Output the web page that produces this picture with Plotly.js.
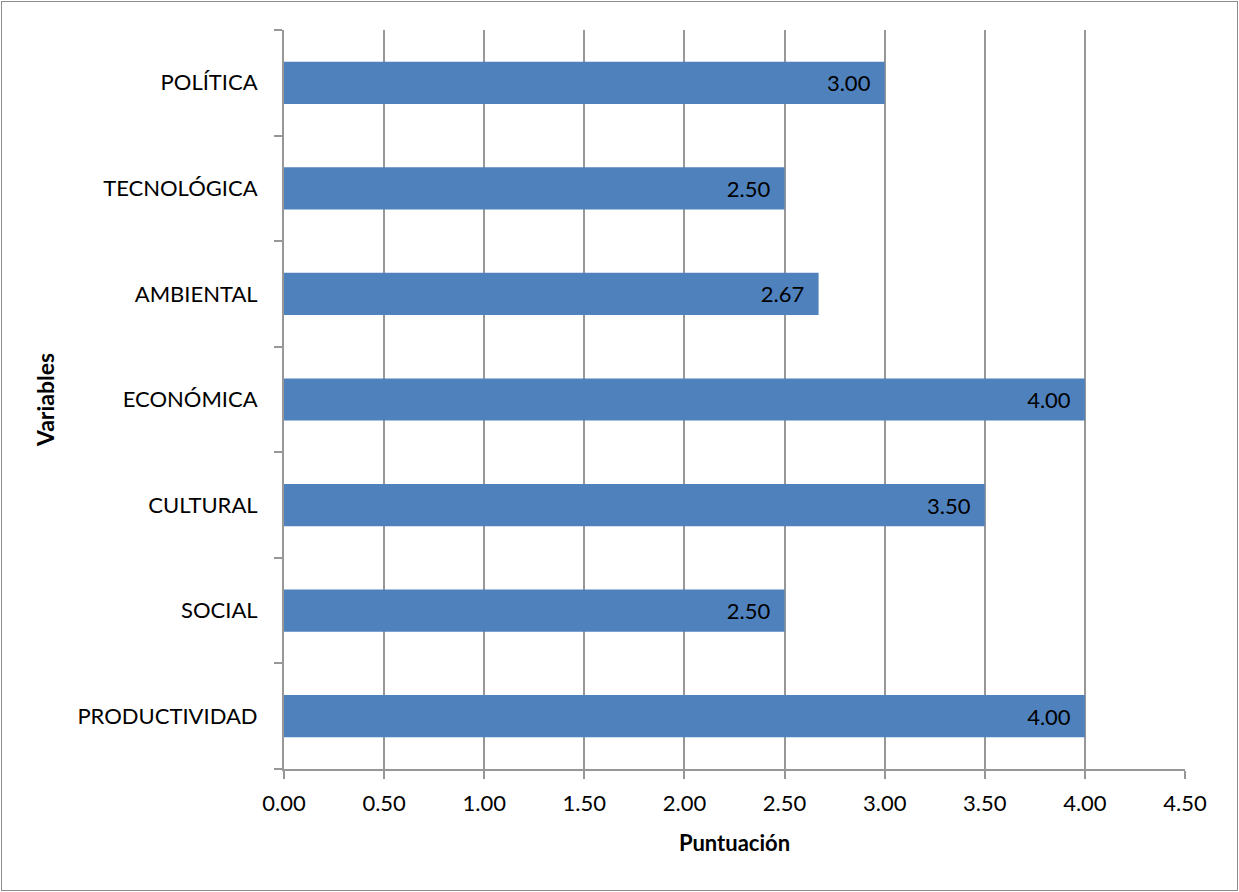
<!DOCTYPE html>
<html>
<head>
<meta charset="utf-8">
<script src="https://cdn.plot.ly/plotly-3.0.1.min.js"></script>
<style>
  html, body { margin: 0; padding: 0; background: #fff; }
  #wrap { position: relative; width: 1239px; height: 892px; }
  #chart { width: 1239px; height: 892px; }
  #frame { position: absolute; left: 1px; top: 1px; width: 1235px; height: 888px; border: 1px solid #8c8c8c; pointer-events: none; }
</style>
</head>
<body>
<div id="wrap">
  <div id="chart"></div>
  <div id="frame"></div>
</div>
<script>
const categories = ["PRODUCTIVIDAD", "SOCIAL", "CULTURAL", "ECONÓMICA", "AMBIENTAL", "TECNOLÓGICA", "POLÍTICA"];
const scores = [4.00, 2.50, 3.50, 4.00, 2.67, 2.50, 3.00];
const xTickValues = [0, 0.5, 1, 1.5, 2, 2.5, 3, 3.5, 4, 4.5];
const xTitle = "Puntuación";
const yTitle = "Variables";

const FONT = "Lato, 'Open Sans', sans-serif";
const GRID = "#979797";

const trace = {
  type: "bar",
  orientation: "h",
  y: categories,
  x: scores,
  width: 0.4,
  marker: { color: "#4F81BD", line: { width: 0 } },
  text: scores.map(v => v.toFixed(2) + "\u00a0\u00a0"),
  textposition: "inside",
  insidetextanchor: "end",
  textfont: { family: FONT, size: 22, color: "#000000" },
  constraintext: "none",
  hoverinfo: "x+y"
};

const layout = {
  width: 1239,
  height: 892,
  margin: { l: 284, r: 54, t: 30, b: 123, pad: 0 },
  paper_bgcolor: "#ffffff",
  plot_bgcolor: "#ffffff",
  showlegend: false,
  font: { family: FONT, size: 22, color: "#000000" },
  xaxis: {
    range: [0, 4.5],
    tickvals: xTickValues,
    ticktext: xTickValues.map(v => v.toFixed(2)),
    showgrid: true,
    gridcolor: GRID,
    gridwidth: 2,
    showline: true,
    linecolor: GRID,
    linewidth: 2,
    ticks: "outside",
    ticklen: 8,
    tickcolor: GRID,
    tickwidth: 2,
    ticklabelstandoff: 6,
    tickfont: { family: FONT, size: 22, color: "#000" },
    zeroline: false,
    title: { text: "<b>" + xTitle + "</b>", font: { family: FONT, size: 22, color: "#000" }, standoff: 20 }
  },
  yaxis: {
    type: "category",
    categoryorder: "array",
    categoryarray: categories,
    range: [-0.5, 6.5],
    showgrid: false,
    showline: true,
    linecolor: GRID,
    linewidth: 2,
    ticks: "outside",
    tickson: "boundaries",
    ticklen: 8,
    tickcolor: GRID,
    tickwidth: 2,
    ticklabelstandoff: 20,
    tickfont: { family: FONT, size: 22, color: "#000" },
    zeroline: false,
    title: { text: "<b>" + yTitle + "</b>", font: { family: FONT, size: 23, color: "#000" }, standoff: 16 }
  },
  bargap: 0.6
};

Plotly.newPlot("chart", [trace], layout, { displayModeBar: false, staticPlot: true });
</script>
</body>
</html>
